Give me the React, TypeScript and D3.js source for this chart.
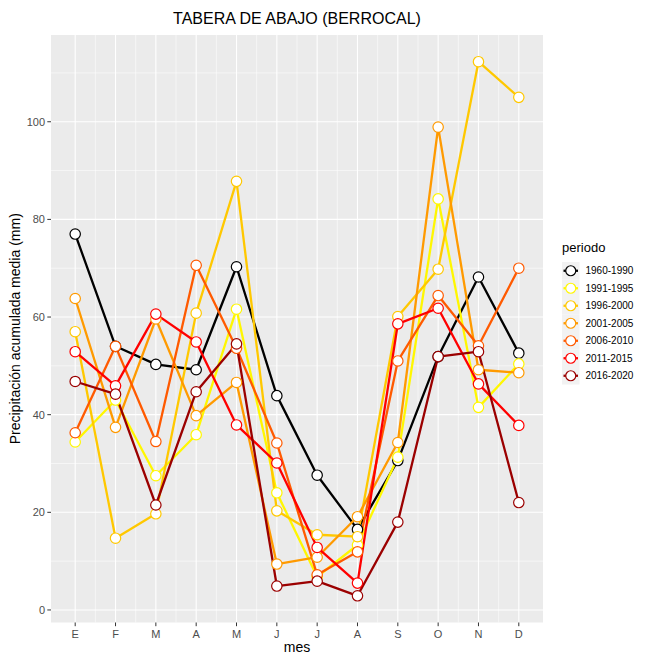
import React from "react";
import * as d3 from "d3";

const months = ["E", "F", "M", "A", "M", "J", "J", "A", "S", "O", "N", "D"];
const periods = ["1960-1990", "1991-1995", "1996-2000", "2001-2005", "2006-2010", "2011-2015", "2016-2020"];
const colors = ["#000000", "#FFF700", "#FFC800", "#FF9A00", "#FF5A00", "#FF0000", "#9B0000"];

const s1960 = [77, 54, 50.3, 49.2, 70.3, 43.9, 27.6, 16.5, 30.6, 51.9, 68.2, 52.6];
const s1991 = [34.4, 43, 27.5, 35.9, 61.6, 24, 6.8, 13.3, 31.3, 84.2, 41.5, 50.4];
const s1996 = [57, 14.7, 19.7, 60.8, 87.8, 20.3, 15.4, 15, 60.1, 69.8, 112.3, 105];
const s2001 = [63.8, 37.4, 59.6, 39.8, 46.6, 9.4, 10.8, 19.1, 34.3, 98.9, 49.2, 48.6];
const s2006 = [36.3, 54, 34.5, 70.6, 53.6, 34.2, 7.2, 11.9, 51, 64.4, 54.1, 70];
const s2011 = [52.9, 45.9, 60.6, 54.9, 37.9, 30.1, 12.8, 5.5, 58.6, 61.8, 46.3, 37.8];
const s2016 = [46.8, 44.2, 21.5, 44.7, 54.5, 4.9, 5.9, 2.9, 18, 51.9, 52.9, 22];
const seriesValues = [s1960, s1991, s1996, s2001, s2006, s2011, s2016];

const yTicks = [0, 20, 40, 60, 80, 100];
const yMinor = [10, 30, 50, 70, 90, 110];

export default function App() {
  const W = 649, H = 655;
  const left = 51, right = 543, top = 35, bottom = 622.5;
  const idx = months.map((_, i) => i);
  const x = d3.scalePoint<number>().domain(idx).range([left, right]).padding(0.6);
  const x0 = x(0)!;
  const step = x.step();
  const all = seriesValues.flat();
  const lo = d3.min(all)!, hi = d3.max(all)!;
  const pad = (hi - lo) * 0.05;
  const y = d3.scaleLinear().domain([lo - pad, hi + pad]).range([bottom, top]);
  const line = d3.line<number>().x((_, i) => x(i)!).y((d) => y(d));
  const font = "'Liberation Sans', Arial, Helvetica, sans-serif";
  const legX = 562, legY0 = 262, keyH = 17.5;

  return (
    <svg width={W} height={H} style={{ position: "absolute", left: 0, top: 0, background: "#fff" }} fontFamily={font}>
      <text x={(left + right) / 2} y={24} textAnchor="middle" fontSize={16} fill="#000">TABERA DE ABAJO (BERROCAL)</text>
      <rect x={left} y={top} width={right - left} height={bottom - top} fill="#EBEBEB" />
      {yMinor.map((t) => (
        <line key={"ym" + t} x1={left} x2={right} y1={y(t)} y2={y(t)} stroke="#fff" strokeWidth={0.55} />
      ))}
      {idx.slice(0, -1).map((i) => (
        <line key={"xm" + i} x1={x0 + step * (i + 0.5)} x2={x0 + step * (i + 0.5)} y1={top} y2={bottom} stroke="#fff" strokeWidth={0.55} />
      ))}
      {yTicks.map((t) => (
        <line key={"yM" + t} x1={left} x2={right} y1={y(t)} y2={y(t)} stroke="#fff" strokeWidth={1.1} />
      ))}
      {idx.map((i) => (
        <line key={"xM" + i} x1={x(i)} x2={x(i)} y1={top} y2={bottom} stroke="#fff" strokeWidth={1.1} />
      ))}
      {seriesValues.map((vals, k) => (
        <path key={"l" + k} d={line(vals)!} fill="none" stroke={colors[k]} strokeWidth={2.3} strokeLinejoin="round" />
      ))}
      {seriesValues.map((vals, k) =>
        vals.map((v, i) => (
          <circle key={"p" + k + "-" + i} cx={x(i)} cy={y(v)} r={5.2} fill="#fff" stroke={colors[k]} strokeWidth={1.2} />
        ))
      )}
      {yTicks.map((t) => (
        <g key={"yt" + t}>
          <line x1={left - 3.7} x2={left} y1={y(t)} y2={y(t)} stroke="#333" strokeWidth={1} />
          <text x={left - 6} y={y(t)} dy="0.35em" textAnchor="end" fontSize={11} fill="#4D4D4D">{t}</text>
        </g>
      ))}
      {months.map((m, i) => (
        <g key={"xt" + i}>
          <line x1={x(i)} x2={x(i)} y1={bottom} y2={bottom + 3.7} stroke="#333" strokeWidth={1} />
          <text x={x(i)} y={bottom + 15} textAnchor="middle" fontSize={11} fill="#4D4D4D">{m}</text>
        </g>
      ))}
      <text x={(left + right) / 2} y={652} textAnchor="middle" fontSize={14} fill="#000">mes</text>
      <text transform={`translate(20,${(top + bottom) / 2}) rotate(-90)`} textAnchor="middle" fontSize={14} fill="#000">Precipitación acumulada media (mm)</text>
      <text x={legX} y={252} fontSize={13} fill="#000">periodo</text>
      {periods.map((p, k) => {
        const cy = legY0 + k * keyH + keyH / 2;
        return (
          <g key={"lg" + k}>
            <rect x={legX} y={legY0 + k * keyH} width={keyH} height={keyH} fill="#F2F2F2" />
            <line x1={legX + 1.5} x2={legX + keyH - 1.5} y1={cy} y2={cy} stroke={colors[k]} strokeWidth={2.3} />
            <circle cx={legX + keyH / 2} cy={cy} r={5} fill="#fff" stroke={colors[k]} strokeWidth={1.2} />
            <text x={legX + keyH + 6} y={cy} dy="0.35em" fontSize={10} fill="#000">{p}</text>
          </g>
        );
      })}
    </svg>
  );
}
